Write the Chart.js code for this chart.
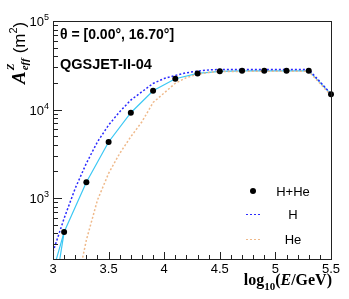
<!DOCTYPE html>
<html>
<head>
<meta charset="utf-8">
<script src="https://cdn.jsdelivr.net/npm/chart.js@4.4.1/dist/chart.umd.min.js"></script>
<style>
html,body{margin:0;padding:0;background:#fff;}
canvas{display:block;}
</style>
</head>
<body>
<canvas id="c" width="349" height="299"></canvas>
<script>
// ---- data ----
const lineE      = [3.0, 3.1, 3.3, 3.5, 3.7, 3.9, 4.1, 4.3, 4.5, 4.7, 4.9, 5.1, 5.3, 5.5];
const hHeLine    = [150, 413, 1513, 4300, 9200, 16300, 22300, 25600, 27000, 27400, 27400, 27400, 27400, 14900];
const pointE     = [3.1, 3.3, 3.5, 3.7, 3.9, 4.1, 4.3, 4.5, 4.7, 4.9, 5.1, 5.3, 5.5];
const hHePoints  = [413, 1513, 4300, 9200, 16300, 22300, 25600, 27000, 27400, 27400, 27400, 27400, 14900];
const hE         = [3.0, 3.1, 3.2, 3.3, 3.4, 3.5, 3.6, 3.7, 3.8, 3.9, 4.0, 4.1, 4.2, 4.3, 4.4, 4.5, 4.7, 4.9, 5.1, 5.3, 5.5];
const hValues    = [247, 590, 1290, 2470, 4320, 6680, 9450, 12800, 15900, 19700, 22400, 24300, 26000, 27200, 28000, 28400, 28400, 28400, 28400, 28400, 15000];
const heE        = [3.2, 3.3, 3.4, 3.5, 3.6, 3.7, 3.8, 3.9, 4.0, 4.1, 4.2, 4.3, 4.4, 4.5, 4.7, 4.9, 5.1, 5.3, 5.5];
const heValues   = [85, 335, 950, 1900, 3190, 4930, 7280, 12000, 15400, 19800, 23000, 25000, 26200, 26800, 27000, 27000, 27000, 27000, 14500];
const lowEdgeE   = [3.0, 3.1];
const lowEdgeV   = [67, 413];
const xTicks     = [3, 3.5, 4, 4.5, 5, 5.5];
const xTickLabels= ['3', '3.5', '4', '4.5', '5', '5.5'];
const yTicks     = [1000, 10000, 100000];
const yTickExp   = ['3', '4', '5'];
const legendLabels = ['H+He', 'H', 'He'];
const titleLine1 = 'θ = [0.00°, 16.70°]';
const titleLine2 = 'QGSJET-II-04';

const pts = (xs, ys) => xs.map((x, i) => ({x: x, y: ys[i]}));

const CYAN = '#3cc8f4', BLUE = '#2a2aff', ORANGE = '#efb98a';

const overlay = {
  id: 'overlay',
  afterDraw(chart) {
    const ctx = chart.ctx, a = chart.chartArea;
    const xs = chart.scales.x, ys = chart.scales.y;
    ctx.save();
    // frame
    ctx.strokeStyle = '#222';
    ctx.lineWidth = 1;
    ctx.strokeRect(Math.round(a.left) + 0.5, Math.round(a.top) + 0.5,
                   Math.round(a.right - a.left), Math.round(a.bottom - a.top));
    // x ticks (inside)
    ctx.beginPath();
    for (let k = 30; k <= 55; k++) {
      const v = k / 10;
      const px = Math.round(xs.getPixelForValue(v)) + 0.5;
      const len = (k % 5 === 0) ? 7 : 4;
      ctx.moveTo(px, a.bottom);
      ctx.lineTo(px, a.bottom - len);
    }
    // y ticks (inside)
    for (let d = 2; d <= 4; d++) {
      for (let m = 1; m <= 9; m++) {
        const v = m * Math.pow(10, d);
        if (v < ys.min || v > ys.max) continue;
        const py = Math.round(ys.getPixelForValue(v)) + 0.5;
        const len = (m === 1) ? 9 : 5;
        ctx.moveTo(a.left, py);
        ctx.lineTo(a.left + len, py);
      }
    }
    {
      const py = Math.round(ys.getPixelForValue(100000)) + 0.5;
      ctx.moveTo(a.left, py); ctx.lineTo(a.left + 9, py);
    }
    ctx.stroke();

    // x tick labels
    ctx.fillStyle = '#000';
    ctx.font = '13px "Liberation Sans", Arial, sans-serif';
    ctx.textAlign = 'center';
    ctx.textBaseline = 'middle';
    xTicks.forEach((v, i) => {
      ctx.fillText(xTickLabels[i], xs.getPixelForValue(v), a.bottom + 10);
    });
    // y tick labels 10^n
    yTicks.forEach((v, i) => {
      const py = ys.getPixelForValue(v);
      ctx.font = '9px "Liberation Sans", Arial, sans-serif';
      ctx.textAlign = 'right';
      ctx.textBaseline = 'alphabetic';
      const ew = ctx.measureText(yTickExp[i]).width;
      ctx.fillText(yTickExp[i], a.left - 4, py - 1);
      ctx.font = '13px "Liberation Sans", Arial, sans-serif';
      ctx.fillText('10', a.left - 4 - ew, py + 5);
    });

    // x axis title: log10(E/GeV)
    {
      const serifB = '"Liberation Serif", "Times New Roman", serif';
      const y0 = 285;
      const parts = [
        {t: 'log', f: 'bold 16px ' + serifB, dy: 0},
        {t: '10', f: 'bold 11px ' + serifB, dy: 5},
        {t: '(', f: 'bold 16px ' + serifB, dy: 0},
        {t: 'E', f: 'italic bold 16px ' + serifB, dy: 0},
        {t: '/GeV)', f: 'bold 16px ' + serifB, dy: 0}
      ];
      let total = 0;
      parts.forEach(p => { ctx.font = p.f; p.w = ctx.measureText(p.t).width; total += p.w; });
      let x = a.right + 1 - total;
      ctx.textAlign = 'left';
      ctx.textBaseline = 'alphabetic';
      parts.forEach(p => { ctx.font = p.f; ctx.fillText(p.t, x, y0 + p.dy); x += p.w; });
    }

    // y axis title: A^Z_eff (m^2), rotated
    {
      ctx.save();
      ctx.translate(25, 84);
      ctx.rotate(-Math.PI / 2);
      ctx.textAlign = 'left';
      ctx.textBaseline = 'alphabetic';
      const serif = '"Liberation Serif", "Times New Roman", serif';
      const sans = '"Liberation Sans", Arial, sans-serif';
      let x = 0;
      ctx.font = 'italic bold 19px ' + serif;
      ctx.fillText('A', x, 0);
      x += ctx.measureText('A').width + 1;
      ctx.font = 'italic bold 11px ' + serif;
      ctx.fillText('Z', x, -11);
      ctx.fillText('eff', x, 3);
      x += ctx.measureText('eff').width + 5;
      ctx.font = '17px ' + sans;
      ctx.fillText('(m', x, 0);
      x += ctx.measureText('(m').width;
      ctx.font = '11px ' + sans;
      ctx.fillText('2', x, -8);
      x += ctx.measureText('2').width;
      ctx.font = '17px ' + sans;
      ctx.fillText(')', x, 0);
      ctx.restore();
    }

    // in-plot titles
    ctx.textAlign = 'left';
    ctx.textBaseline = 'alphabetic';
    ctx.font = 'bold 14px "Liberation Sans", Arial, sans-serif';
    ctx.fillText(titleLine1, 60, 39);
    ctx.font = 'bold 14.5px "Liberation Sans", Arial, sans-serif';
    ctx.fillText(titleLine2, 60, 69);

    // legend
    const legY = [191, 214, 239];
    const symX = 253, txtX = 293;
    ctx.font = '13px "Liberation Sans", Arial, sans-serif';
    ctx.textAlign = 'center';
    ctx.textBaseline = 'middle';
    ctx.fillStyle = '#000';
    ctx.beginPath(); ctx.arc(symX, legY[0], 3, 0, Math.PI * 2); ctx.fill();
    ctx.setLineDash([2, 2]);
    ctx.lineWidth = 1.2;
    ctx.strokeStyle = BLUE;
    ctx.beginPath(); ctx.moveTo(246, legY[1] + 0.5); ctx.lineTo(261, legY[1] + 0.5); ctx.stroke();
    ctx.strokeStyle = ORANGE;
    ctx.beginPath(); ctx.moveTo(246, legY[2] + 0.5); ctx.lineTo(261, legY[2] + 0.5); ctx.stroke();
    ctx.setLineDash([]);
    ctx.fillStyle = '#000';
    legendLabels.forEach((l, i) => ctx.fillText(l, txtX, legY[i] + 1));
    ctx.restore();
  }
};

new Chart(document.getElementById('c'), {
  type: 'scatter',
  data: {
    datasets: [
      {label: 'H+He line', data: pts(lineE, hHeLine), showLine: true, borderColor: CYAN,
       borderWidth: 1.2, pointRadius: 0, tension: 0, clip: 0, order: 4},
      {label: 'H+He low', data: pts(lowEdgeE, lowEdgeV), showLine: true, borderColor: CYAN,
       borderWidth: 1.2, pointRadius: 0, tension: 0, clip: 0, order: 5},
      {label: 'H', data: pts(hE, hValues), showLine: true, borderColor: BLUE,
       borderWidth: 1.5, borderDash: [2, 2], pointRadius: 0, tension: 0, clip: 0, order: 2},
      {label: 'He', data: pts(heE, heValues), showLine: true, borderColor: ORANGE,
       borderWidth: 1.5, borderDash: [2, 2], pointRadius: 0, tension: 0, clip: 0, order: 3},
      {label: 'H+He', data: pts(pointE, hHePoints), showLine: false, backgroundColor: '#000',
       borderColor: '#000', pointRadius: 3, borderWidth: 0, clip: false, order: 1}
    ]
  },
  options: {
    responsive: false,
    animation: false,
    devicePixelRatio: 1,
    layout: {padding: {left: 53, top: 21, right: 18, bottom: 40}},
    plugins: {legend: {display: false}, tooltip: {enabled: false}},
    scales: {
      x: {type: 'linear', min: 3, max: 5.5, display: false},
      y: {type: 'logarithmic', min: 205, max: 100000, display: false}
    }
  },
  plugins: [overlay]
});
</script>
</body>
</html>
